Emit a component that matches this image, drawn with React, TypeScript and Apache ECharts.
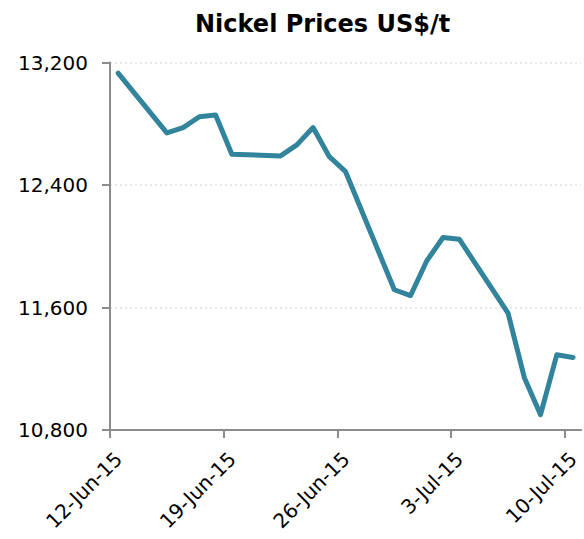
import React, { useEffect, useRef } from "react";
import * as echarts from "echarts";

const dates = [
  "2015-06-12",
  "2015-06-15", "2015-06-16", "2015-06-17", "2015-06-18", "2015-06-19",
  "2015-06-22", "2015-06-23", "2015-06-24", "2015-06-25", "2015-06-26",
  "2015-06-29", "2015-06-30", "2015-07-01", "2015-07-02", "2015-07-03",
  "2015-07-06", "2015-07-07", "2015-07-08", "2015-07-09", "2015-07-10",
];
const prices = [
  13131,
  12740, 12775, 12846, 12857, 12601,
  12590, 12662, 12775, 12585, 12487,
  11716, 11678, 11905, 12057, 12046,
  11563, 11143, 10900, 11291, 11274,
];
const startDate = "2015-06-12";
const endDate = "2015-07-11";
const yTicks = [10800, 11600, 12400, 13200];
const MONTHS = ["Jan", "Feb", "Mar", "Apr", "May", "Jun", "Jul", "Aug", "Sep", "Oct", "Nov", "Dec"];

const DAY = 86400000;
const toUTC = (s: string) => {
  const [y, m, d] = s.split("-").map(Number);
  return Date.UTC(y, m - 1, d);
};
const dayOffset = (s: string) => (toUTC(s) - toUTC(startDate)) / DAY;
const fmtDate = (off: number) => {
  const d = new Date(toUTC(startDate) + off * DAY);
  return `${d.getUTCDate()}-${MONTHS[d.getUTCMonth()]}-${String(d.getUTCFullYear()).slice(2)}`;
};

const FONT = "DejaVu Sans";

export default function App() {
  const ref = useRef<HTMLDivElement>(null);
  useEffect(() => {
    if (!ref.current) return;
    const chart = echarts.init(ref.current, undefined, { renderer: "svg" });
    const seriesData = dates.map((d, i) => [dayOffset(d) + 0.5, prices[i]]);
    chart.setOption({
      animation: false,
      title: {
        text: "Nickel Prices US$/t",
        left: 190,
        top: 7,
        textStyle: { fontFamily: FONT, fontSize: 24, fontWeight: "bold", color: "#000" },
      },
      grid: { left: 110, right: 0, top: 62.5, bottom: 109, containLabel: false },
      xAxis: {
        type: "value",
        min: 0,
        max: dayOffset(endDate),
        interval: 7,
        axisLine: { show: true, lineStyle: { color: "#8c8c8c", width: 2 } },
        axisTick: { show: true, length: 8, lineStyle: { color: "#8c8c8c", width: 2 } },
        splitLine: { show: false },
        axisLabel: {
          rotate: 45,
          margin: 17,
          verticalAlign: "top",
          lineHeight: 24,
          showMaxLabel: false,
          fontFamily: FONT,
          fontSize: 20,
          color: "#000",
          formatter: (v: number) => (v % 7 === 0 ? fmtDate(v) : ""),
        },
      },
      yAxis: {
        type: "value",
        min: yTicks[0],
        max: yTicks[yTicks.length - 1],
        interval: yTicks[1] - yTicks[0],
        axisLine: { show: true, lineStyle: { color: "#8c8c8c", width: 2 } },
        axisTick: { show: true, length: 8, lineStyle: { color: "#8c8c8c", width: 2 } },
        splitLine: { show: true, lineStyle: { color: "#e0e0e0", type: [2, 3], width: 1.5 } },
        axisLabel: {
          margin: 22,
          fontFamily: FONT,
          fontSize: 20,
          color: "#000",
          formatter: (v: number) => v.toLocaleString("en-US"),
        },
      },
      series: [
        {
          type: "line",
          data: seriesData,
          showSymbol: false,
          symbol: "none",
          lineStyle: { color: "#31849b", width: 5, join: "round", cap: "round" },
        },
      ],
    });
    return () => chart.dispose();
  }, []);
  return <div ref={ref} style={{ width: 584, height: 539, position: "absolute", left: 0, top: 0 }} />;
}
